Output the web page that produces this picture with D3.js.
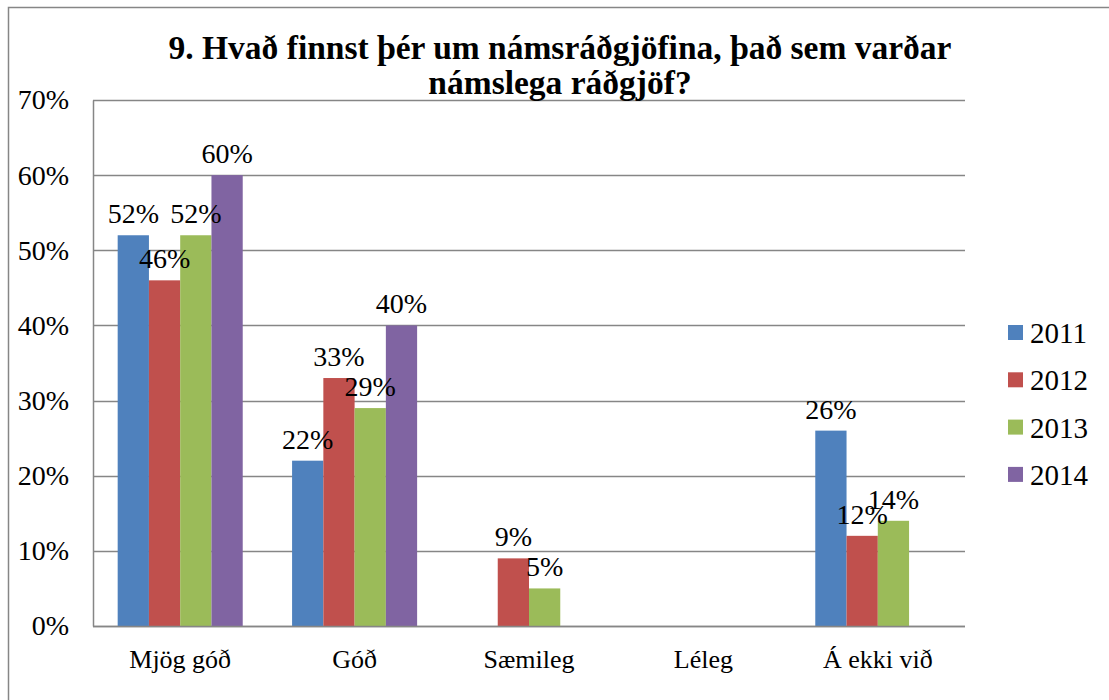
<!DOCTYPE html>
<html>
<head>
<meta charset="utf-8">
<script src="https://cdn.jsdelivr.net/npm/d3@7"></script>
<style>
  body { margin: 0; background: #fff; }
  svg text { font-family: "Liberation Serif", "DejaVu Serif", serif; fill: #000; }
</style>
</head>
<body>
<svg id="chart" width="1109" height="700"></svg>
<script>
const categories = ['Mjög góð', 'Góð', 'Sæmileg', 'Léleg', 'Á ekki við'];
const years = ['2011', '2012', '2013', '2014'];
// null = no bar in the source
const values2011 = [0.52, 0.22, null, null, 0.26];
const values2012 = [0.46, 0.33, 0.09, null, 0.12];
const values2013 = [0.52, 0.29, 0.05, null, 0.14];
const values2014 = [0.60, 0.40, null, null, null];
const yTicks = [0, 0.1, 0.2, 0.3, 0.4, 0.5, 0.6, 0.7];
const colors = ['#4F81BD', '#C0504D', '#9BBB59', '#8064A2'];
const titleLines = ['9. Hvað finnst þér um námsráðgjöfina, það sem varðar', 'námslega ráðgjöf?'];

const series = [values2011, values2012, values2013, values2014];

const svg = d3.select('#chart');
const width = +svg.attr('width');
const height = +svg.attr('height');

const plot = { left: 93, right: 965, top: 100, bottom: 626 };

// outer chart border (only top and left edges are visible in the frame)
svg.append('path')
    .attr('d', `M8.5,${height} V7.5 H${width}`)
    .attr('fill', 'none')
    .attr('stroke', '#868686')
    .attr('stroke-width', 1.5);

const x0 = d3.scaleBand()
    .domain(categories)
    .range([plot.left, plot.right]);

const gap = x0.step() * 0.1415;
const x1 = d3.scaleBand()
    .domain(years)
    .range([gap, x0.bandwidth() - gap]);

const y = d3.scaleLinear()
    .domain([0, 0.7])
    .range([plot.bottom, plot.top]);

// gridlines
svg.append('g')
    .selectAll('line')
    .data(yTicks)
    .join('line')
    .attr('x1', plot.left)
    .attr('x2', plot.right)
    .attr('y1', d => Math.round(y(d)) + 0.5)
    .attr('y2', d => Math.round(y(d)) + 0.5)
    .attr('stroke', '#868686')
    .attr('stroke-width', 1.5);

// y axis
const yAxis = svg.append('g')
    .attr('transform', `translate(${plot.left},0)`)
    .call(d3.axisLeft(y).tickValues(yTicks).tickFormat(d3.format('.0%')).tickSize(0).tickPadding(24));
yAxis.select('.domain').attr('stroke', '#868686').attr('stroke-width', 1.5);
yAxis.selectAll('text')
    .style('font-family', '"Liberation Serif", serif')
    .style('font-size', '28px');

// bars
const rows = categories.map((c, i) => ({
    category: c,
    items: years.map((yr, j) => ({ year: yr, idx: j, value: series[j][i] })).filter(d => d.value !== null)
}));

const groups = svg.append('g')
    .selectAll('g')
    .data(rows)
    .join('g')
    .attr('transform', d => `translate(${x0(d.category)},0)`);

groups.selectAll('rect')
    .data(d => d.items)
    .join('rect')
    .attr('x', d => x1(d.year))
    .attr('y', d => y(d.value))
    .attr('width', x1.bandwidth())
    .attr('height', d => y(0) - y(d.value))
    .attr('fill', d => colors[d.idx]);

groups.selectAll('text')
    .data(d => d.items)
    .join('text')
    .attr('x', d => x1(d.year) + x1.bandwidth() / 2)
    .attr('y', d => y(d.value) - 12)
    .attr('text-anchor', 'middle')
    .style('font-size', '28px')
    .text(d => d3.format('.0%')(d.value));

// x axis baseline over the bars
svg.append('line')
    .attr('x1', plot.left)
    .attr('x2', plot.right)
    .attr('y1', Math.round(y(0)) + 0.5)
    .attr('y2', Math.round(y(0)) + 0.5)
    .attr('stroke', '#868686')
    .attr('stroke-width', 1.5);

// category labels
svg.append('g')
    .selectAll('text')
    .data(categories)
    .join('text')
    .attr('x', d => x0(d) + x0.bandwidth() / 2)
    .attr('y', 668)
    .attr('text-anchor', 'middle')
    .style('font-size', '26px')
    .text(d => d);

// title
svg.append('g')
    .selectAll('text')
    .data(titleLines)
    .join('text')
    .attr('x', 560)
    .attr('y', (d, i) => 59 + i * 35)
    .attr('text-anchor', 'middle')
    .style('font-size', '33.5px')
    .style('font-weight', 'bold')
    .text(d => d);

// legend
const legend = svg.append('g')
    .selectAll('g')
    .data(years)
    .join('g')
    .attr('transform', (d, i) => `translate(1008,${333 + i * 47.3})`);

legend.append('rect')
    .attr('x', 0)
    .attr('y', -8)
    .attr('width', 15)
    .attr('height', 15)
    .attr('fill', (d, i) => colors[i]);

legend.append('text')
    .attr('x', 22)
    .attr('y', 10)
    .style('font-size', '29px')
    .text(d => d);
</script>
</body>
</html>
